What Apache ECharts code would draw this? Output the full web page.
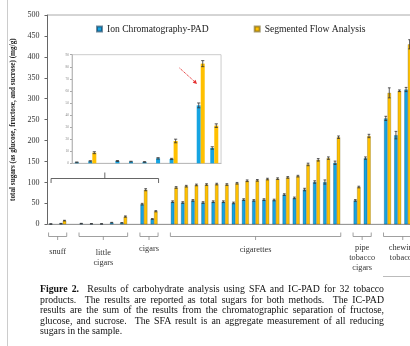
<!DOCTYPE html>
<html>
<head>
<meta charset="utf-8">
<script src="https://cdn.jsdelivr.net/npm/echarts@6/dist/echarts.min.js"></script>
<title>Figure 2</title>
<style>
body{margin:0;width:410px;height:346px;overflow:hidden;background:#fff;position:relative}
#container{position:absolute;left:0;top:0;width:440px;height:346px}
.cap{position:absolute;left:40px;width:344px;font-family:'Liberation Serif',serif;font-size:9.8px;line-height:10px;color:#111;text-align:justify;text-align-last:justify}
.cap.last{text-align-last:left}
</style>
</head>
<body>
<div id="container"></div>
<div class="cap" style="top:284px"><b>Figure 2.</b>&nbsp; Results of carbohydrate analysis using SFA and IC-PAD for 32 tobacco</div>
<div class="cap" style="top:294.5px">products.&nbsp; The results are reported as total sugars for both methods.&nbsp; The IC-PAD</div>
<div class="cap" style="top:305px">results are the sum of the results from the chromatographic separation of fructose,</div>
<div class="cap" style="top:315.5px">glucose, and sucrose.&nbsp; The SFA result is an aggregate measurement of all reducing</div>
<div class="cap last" style="top:326px">sugars in the sample.</div>
<script type="text/javascript">
// product groups, in the order they appear on the x axis
var groupNames = ['snuff', 'little\ncigars', 'cigars', 'cigarettes', 'pipe\ntobacco\ncigars', 'chewing\ntobacco'];
var groupSizes = [2, 5, 2, 17, 2, 4];

// total sugars (mg/g), one value per product
var icPad = [0.8, 1.7, 1.9, 1.4, 1.1, 4.1, 3.6, 48, 12.7,
    54, 52, 57, 52, 54, 54, 51, 59, 57, 59, 58, 71, 63, 83, 101, 101, 147,
    57, 158, 253, 213, 322, 300];
var sfa = [null, 8.8, null, null, null, null, 18.5, 82.6, 31.2,
    88, 91, 94, 95, 96, 95, 98, 104, 105, 108, 109, 112, 115, 143, 154, 158, 208,
    89, 211, 314, 319, 430, 380];
var icErr = [0.3, 0.5, 0.4, 0.3, 0.3, 0.6, 0.5, 2, 1,
    2, 2, 2, 2, 2, 2, 2, 2, 2, 2, 2, 2, 2, 3, 3, 5, 4,
    2, 3, 5, 9, 5, 5];
var sfaErr = [0, 0.8, 0, 0, 0, 0, 1.5, 2.5, 1.5,
    2, 2, 2, 2, 2, 2, 2, 2, 2, 2, 2, 2, 2, 3, 3, 3, 3,
    2, 4, 12, 2, 11, 5];

var yMax = 500, yStep = 50;          // main axis
var insetMax = 90, insetStep = 10;   // zoomed inset axis
var insetGroups = 3;                 // snuff, little cigars, cigars

var BLUE = '#15A4E2', GOLD = '#FFC000';
var FONT = 'Liberation Serif';

// one slot per product, with an empty slot between groups
var slots = [], groupSpan = [], p = 0;
groupSizes.forEach(function (n, g) {
    if (g > 0) slots.push(null);
    var first = slots.length;
    for (var i = 0; i < n; i++) slots.push(p++);
    groupSpan.push([first, slots.length - 1]);
});
var insetCount = groupSpan[insetGroups - 1][1] + 1;
var cats = slots.map(function (s, i) { return 's' + i; });

function barData(list, n) {
    return slots.slice(0, n).map(function (s) { return s === null ? null : list[s]; });
}
function errData(list, errs, side, n) {
    var out = [];
    slots.slice(0, n).forEach(function (s, i) {
        if (s !== null && list[s] != null && errs[s] > 0) out.push([i, list[s], errs[s], side]);
    });
    return out;
}
function errRender(barW) {
    return function (params, api) {
        var i = api.value(0), v = api.value(1), e = api.value(2), side = api.value(3);
        var top = api.coord([i, v + e]), bot = api.coord([i, v - e]);
        var x = top[0] + side * barW / 2;
        var h = barW / 2 - 0.4;
        var st = { stroke: '#333', lineWidth: 0.8 };
        return {
            type: 'group', children: [
                { type: 'line', shape: { x1: x, y1: top[1], x2: x, y2: bot[1] }, style: st },
                { type: 'line', shape: { x1: x - h, y1: top[1], x2: x + h, y2: top[1] }, style: st },
                { type: 'line', shape: { x1: x - h, y1: bot[1], x2: x + h, y2: bot[1] }, style: st }
            ]
        };
    };
}

var slotW = 10.15;
var chart = echarts.init(document.getElementById('container'));

var option = {
    animation: false,
    textStyle: { fontFamily: FONT },
    legend: {
        left: 91, top: 19,
        itemWidth: 5, itemHeight: 5, itemGap: 45,
        icon: 'rect',
        textStyle: { fontFamily: FONT, fontSize: 9.6, color: '#222' },
        data: ['Ion Chromatography-PAD', 'Segmented Flow Analysis']
    },
    grid: [{
        left: 47.5, top: 15, width: slotW * slots.length, height: 209.3,
        show: true, borderColor: '#aaa', borderWidth: 1
    }, {
        left: 72, top: 54.7, width: 13.55 * insetCount, height: 108.6,
        show: true, borderColor: '#ccc', borderWidth: 1, backgroundColor: '#fff'
    }],
    xAxis: [{
        type: 'category', gridIndex: 0, data: cats,
        axisLine: { lineStyle: { color: '#999' } },
        axisTick: { show: false }, axisLabel: { show: false }
    }, {
        type: 'category', gridIndex: 1, data: cats.slice(0, insetCount),
        axisLine: { lineStyle: { color: '#bbb' } },
        axisTick: { show: false }, axisLabel: { show: false }
    }],
    yAxis: [{
        type: 'value', gridIndex: 0, min: 0, max: yMax, interval: yStep,
        name: 'total sugars (as glucose, fructose, and sucrose) (mg/g)',
        nameLocation: 'middle', nameGap: 27,
        nameTextStyle: { fontFamily: FONT, fontWeight: 'bold', fontSize: 7.2, color: '#222' },
        axisLine: { show: true, lineStyle: { color: '#666' } },
        axisTick: { show: true, length: 3, lineStyle: { color: '#666' } },
        axisLabel: { fontSize: 8, margin: 8, color: '#333', fontFamily: FONT },
        splitLine: { show: false }
    }, {
        type: 'value', gridIndex: 1, min: 0, max: insetMax, interval: insetStep,
        axisLine: { show: true, lineStyle: { color: '#bbb' } },
        axisTick: { show: true, length: 2, lineStyle: { color: '#aaa' } },
        axisLabel: { fontSize: 3.5, margin: 3, color: '#888', fontFamily: FONT },
        splitLine: { show: false }
    }],
    series: [{
        name: 'Ion Chromatography-PAD', type: 'bar', xAxisIndex: 0, yAxisIndex: 0,
        barWidth: 3.5, barGap: '0%',
        itemStyle: { color: BLUE, borderColor: 'rgba(20,60,90,0.6)', borderWidth: 0.5 },
        data: barData(icPad, slots.length)
    }, {
        name: 'Segmented Flow Analysis', type: 'bar', xAxisIndex: 0, yAxisIndex: 0,
        barWidth: 3.5, barGap: '0%',
        itemStyle: { color: GOLD, borderColor: 'rgba(110,90,20,0.6)', borderWidth: 0.5 },
        data: barData(sfa, slots.length)
    }, {
        type: 'custom', xAxisIndex: 0, yAxisIndex: 0, z: 5,
        renderItem: errRender(3.5), encode: { x: 0, y: 1 },
        data: errData(icPad, icErr, -1, slots.length).concat(errData(sfa, sfaErr, 1, slots.length))
    }, {
        name: 'Ion Chromatography-PAD', type: 'bar', xAxisIndex: 1, yAxisIndex: 1,
        barWidth: 4, barGap: '0%',
        itemStyle: { color: BLUE },
        data: barData(icPad, insetCount)
    }, {
        name: 'Segmented Flow Analysis', type: 'bar', xAxisIndex: 1, yAxisIndex: 1,
        barWidth: 4, barGap: '0%',
        itemStyle: { color: GOLD },
        data: barData(sfa, insetCount)
    }, {
        type: 'custom', xAxisIndex: 1, yAxisIndex: 1, z: 5,
        renderItem: errRender(4), encode: { x: 0, y: 1 },
        data: errData(icPad, icErr, -1, insetCount).concat(errData(sfa, sfaErr, 1, insetCount))
    }]
};
chart.setOption(option);

// brackets, group names and annotations placed from the main axis
function px(i) { return chart.convertToPixel({ gridIndex: 0 }, [i, 0])[0]; }
var lineSt = { stroke: '#888', lineWidth: 0.8, fill: null };
var labelTop = [247, 248, 244, 245, 243, 243];
var gfx = [];
groupSpan.forEach(function (sp, g) {
    var x1 = px(sp[0]) - 4, x2 = px(sp[1]) + 4, cx = (x1 + x2) / 2;
    gfx.push({ type: 'polyline', shape: { points: [[x1, 232.5], [x1, 236.5], [x2, 236.5], [x2, 232.5]] }, style: lineSt });
    gfx.push({ type: 'line', shape: { x1: cx, y1: 236.5, x2: cx, y2: 240 }, style: lineSt });
    gfx.push({
        type: 'text', x: cx, y: labelTop[g],
        style: { text: groupNames[g], fontFamily: FONT, fontSize: 8.3, lineHeight: 10, fill: '#333', align: 'center', verticalAlign: 'top' }
    });
});
// bracket pointing at the inset
var bx1 = px(0) - 1.5, bx2 = px(insetCount - 1) + 4.5, bc = (bx1 + bx2) / 2;
var brSt = { stroke: '#555', lineWidth: 0.9, fill: null };
gfx.push({ type: 'polyline', shape: { points: [[bx1, 183], [bx1, 178.5], [bx2, 178.5], [bx2, 183]] }, style: brSt });
gfx.push({ type: 'line', shape: { x1: bc, y1: 178.5, x2: bc, y2: 172.5 }, style: brSt });
// red dotted arrow in the inset
gfx.push({ type: 'line', shape: { x1: 179.5, y1: 68, x2: 194.5, y2: 81.5 }, style: { stroke: '#e53030', lineWidth: 1, lineDash: [1.2, 0.8] } });
gfx.push({ type: 'polygon', shape: { points: [[197, 84], [192.7, 82.8], [195.5, 79.8]] }, style: { fill: '#e53030' } });
// page frame lines
gfx.push({ type: 'line', shape: { x1: 7.5, y1: 0, x2: 7.5, y2: 346 }, style: { stroke: '#ccc', lineWidth: 1 } });
gfx.push({ type: 'line', shape: { x1: 383, y1: 276.5, x2: 440, y2: 276.5 }, style: { stroke: '#bbb', lineWidth: 1 } });

chart.setOption({ graphic: gfx });
</script>
</body>
</html>
